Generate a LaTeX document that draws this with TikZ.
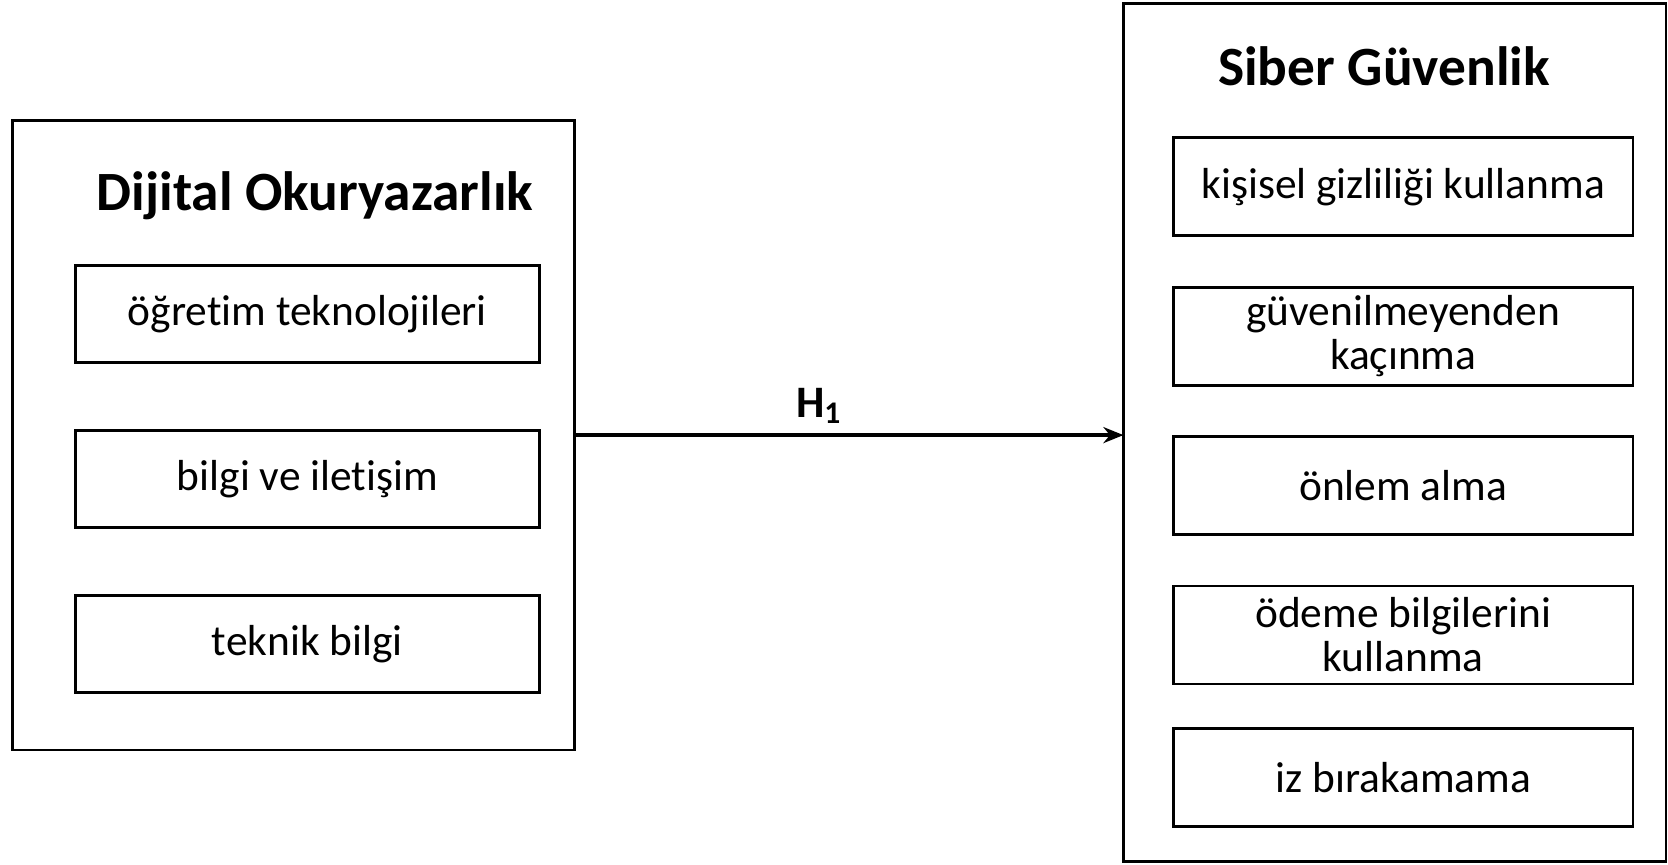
\documentclass[tikz,border=0pt]{standalone}
\usepackage{fontspec}
\setmainfont{Carlito}[Ligatures=NoCommon]
\usetikzlibrary{arrows.meta}
\begin{document}
\begin{tikzpicture}[x=0.5pt,y=-0.5pt,
  outerbox/.style={draw,line width=1.4pt,inner sep=0pt,outer sep=0pt},
  itembox/.style={draw,line width=1.4pt,inner sep=0pt,outer sep=0pt,align=center,
    font=\fontsize{21.7}{22}\selectfont},
  leftitem/.style={itembox,minimum width=231.9pt,minimum height=48.5pt},
  rightitem/.style={itembox,minimum width=229.8pt,minimum height=49pt},
  titletext/.style={font=\fontsize{27.7}{30}\selectfont\bfseries,inner sep=0pt},
  hlabel/.style={font=\fontsize{22.5}{24}\selectfont\bfseries,inner sep=0pt},
  link/.style={line width=1.9pt,-{Stealth[length=10pt,width=8pt]}}]
\useasboundingbox (0,0) rectangle (1668,865);
% left group
\node[outerbox,minimum width=280.8pt,minimum height=314.9pt] (dl) at (293.6,435.1) {};
\node[titletext] (dltitle) at (315,196) {Dijital Okuryazarlık};
\node[leftitem] (l1) at (307.4,313.9) {öğretim teknolojileri};
\node[leftitem] (l2) at (307.4,479.2) {bilgi ve iletişim};
\node[leftitem] (l3) at (307.4,644.1) {teknik bilgi};
% right group
\node[outerbox,minimum width=271.3pt,minimum height=429.2pt] (sg) at (1394.7,432.5) {};
\node[titletext] (sgtitle) at (1384,66) {Siber Güvenlik};
\node[rightitem] (r1) at (1403.2,186.7) {kişisel gizliliği kullanma};
\node[rightitem] (r2) at (1403.2,336.2) {güvenilmeyenden\\kaçınma};
\node[rightitem] (r3) at (1403.2,485.6) {önlem alma};
\node[rightitem] (r4) at (1403.2,635) {ödeme bilgilerini\\kullanma};
\node[rightitem] (r5) at (1403.2,777.1) {iz bırakamama};
% connector
\draw[link] (dl.east) -- (dl.east -| sg.west)
  node[hlabel,pos=0.445,anchor=base,yshift=9pt] (h1) {H\textsubscript{1}};
\end{tikzpicture}
\end{document}
